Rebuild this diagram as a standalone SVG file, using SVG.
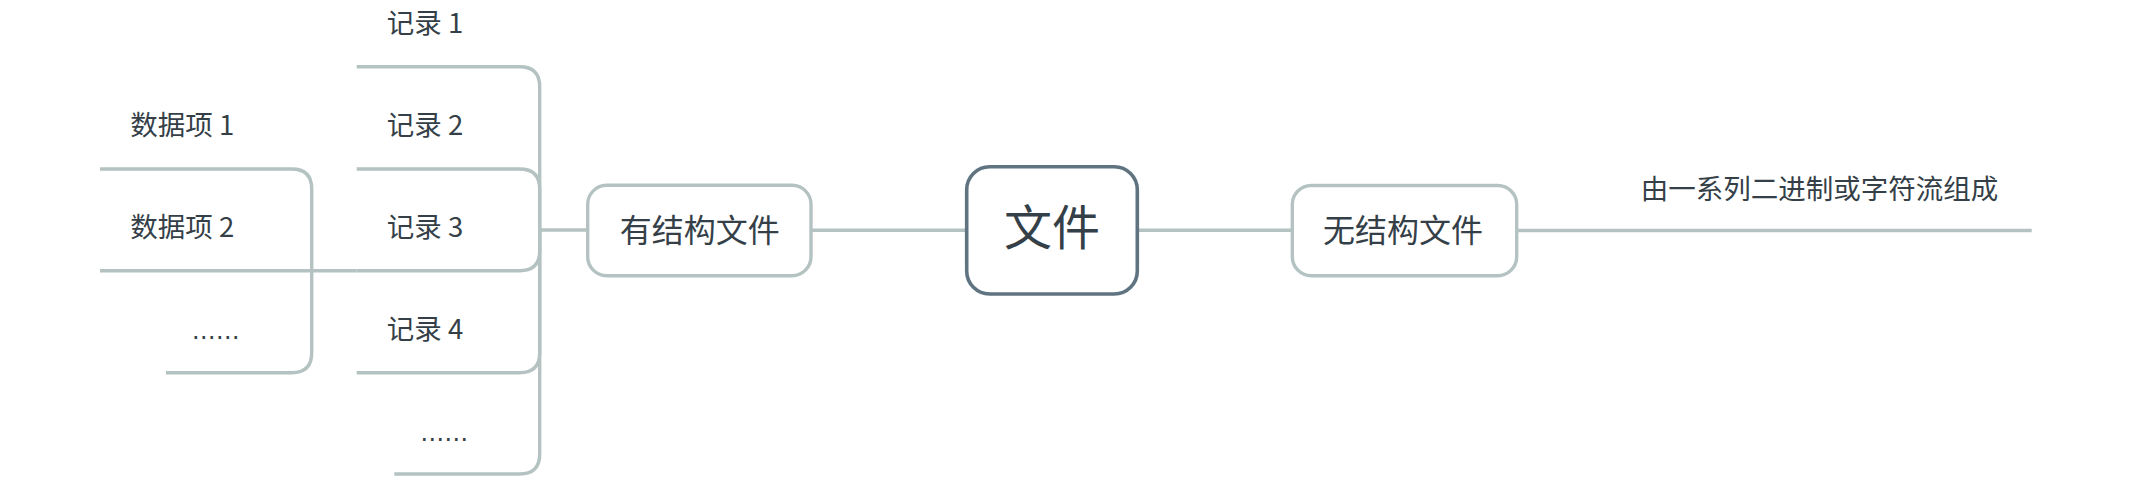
<svg xmlns="http://www.w3.org/2000/svg" width="2131" height="491" viewBox="0 0 2131 491">
  <style>
    .ln { fill: none; stroke: #b4c2c2; stroke-width: 3.4; stroke-linecap: butt; }
    .box { fill: #ffffff; stroke: #b4c2c2; stroke-width: 3.4; }
    .root { fill: #ffffff; stroke: #5f7381; stroke-width: 3.6; }
    text { font-family: "Noto Sans CJK SC", "Noto Sans", sans-serif; fill: #353f48; text-anchor: middle; }
    .sub { font-size: 27.5px; }
    .main { font-size: 32px; }
    .big { font-size: 48px; }
    .dots { font-family: "DejaVu Sans", sans-serif; font-size: 24px; }
  </style>
  <rect width="2131" height="491" fill="#ffffff"/>
  <g id="connectors">
    <path class="ln" d="M539.7 230 V86.7 Q539.7 66.7 519.7 66.7 H356.7"/>
    <path class="ln" d="M539.7 230 V189 Q539.7 169 519.7 169 H356.7"/>
    <path class="ln" d="M539.7 230 V250.7 Q539.7 270.7 519.7 270.7 H356.7"/>
    <path class="ln" d="M539.7 230 V352.7 Q539.7 372.7 519.7 372.7 H356.7"/>
    <path class="ln" d="M539.7 230 V454 Q539.7 474 519.7 474 H394.3"/>
    <path class="ln" d="M538 230 H588"/>
    <path class="ln" d="M311.7 270.7 V189 Q311.7 169 291.7 169 H100"/>
    <path class="ln" d="M356.7 270.7 H100"/>
    <path class="ln" d="M311.7 270.7 V352.7 Q311.7 372.7 291.7 372.7 H166"/>
    <path class="ln" d="M811 230.3 H967"/>
    <path class="ln" d="M1137 230.3 H1292"/>
    <path class="ln" d="M1516 230.5 H2031.7"/>
  </g>
  <g id="node-root">
    <rect class="root" x="966.7" y="166.7" width="170.6" height="127.3" rx="23"/>
    <text class="big" x="1052" y="244.5">文件</text>
  </g>
  <g id="node-structured">
    <rect class="box" x="587.7" y="185.3" width="223.3" height="90.4" rx="19"/>
    <text class="main" x="699.7" y="241.5">有结构文件</text>
  </g>
  <g id="node-unstructured">
    <rect class="box" x="1292.3" y="185.5" width="224.4" height="90.2" rx="19"/>
    <text class="main" x="1403" y="241.5">无结构文件</text>
  </g>
  <g id="node-desc">
    <text class="sub" x="1819.5" y="198.5">由一系列二进制或字符流组成</text>
  </g>
  <g id="node-record1"><text class="sub" x="425" y="33">记录 1</text></g>
  <g id="node-record2"><text class="sub" x="425" y="135.3">记录 2</text></g>
  <g id="node-record3"><text class="sub" x="425" y="237">记录 3</text></g>
  <g id="node-record4"><text class="sub" x="425" y="339">记录 4</text></g>
  <g id="node-record-more"><text class="dots" x="444.3" y="440.5">……</text></g>
  <g id="node-item1"><text class="sub" x="182.3" y="135.3">数据项 1</text></g>
  <g id="node-item2"><text class="sub" x="182.3" y="237">数据项 2</text></g>
  <g id="node-item-more"><text class="dots" x="215.7" y="338.5">……</text></g>
</svg>
